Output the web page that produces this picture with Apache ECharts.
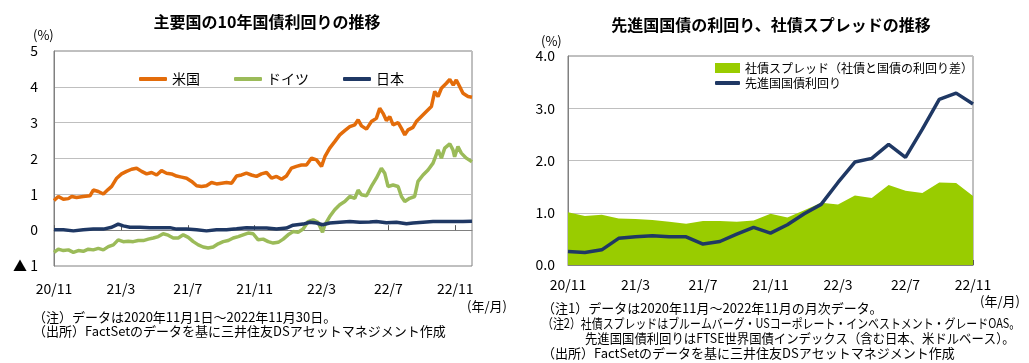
<!DOCTYPE html>
<html><head><meta charset="utf-8">
<script src="https://cdn.jsdelivr.net/npm/echarts@6/dist/echarts.min.js"></script>
<style>html,body{margin:0;padding:0;background:#fff}#c{width:1029px;height:363px}</style>
</head><body><div id="c"></div>
<script>
// ---- Left chart: 10-year government bond yields (months since 2020/11/1) ----
const usX = [0,0.26,0.56,0.86,1.06,1.35,1.75,2.15,2.35,2.65,2.95,3.25,3.45,3.75,4.04,4.34,4.64,4.94,5.24,5.54,5.84,6.14,6.43,6.73,7.03,7.33,7.63,7.93,8.23,8.53,8.82,9.12,9.42,9.72,10.02,10.32,10.62,10.92,11.22,11.51,11.81,12.11,12.41,12.71,13.01,13.31,13.61,13.90,14.20,14.50,14.80,15.10,15.40,15.70,16.00,16.20,16.49,16.79,17.09,17.39,17.69,17.99,18.19,18.39,18.69,18.98,19.28,19.48,19.68,19.88,20.08,20.28,20.58,20.78,20.98,21.18,21.47,21.67,21.97,22.27,22.57,22.77,22.97,23.17,23.47,23.67,23.88,24.06,24.26,24.46,24.76,25.0];
const usY = [0.83,0.94,0.86,0.88,0.94,0.91,0.94,0.96,1.12,1.08,1.01,1.14,1.22,1.45,1.57,1.64,1.70,1.73,1.64,1.57,1.61,1.54,1.66,1.59,1.57,1.51,1.48,1.45,1.36,1.24,1.22,1.24,1.33,1.29,1.31,1.33,1.31,1.51,1.54,1.59,1.54,1.50,1.57,1.61,1.45,1.50,1.42,1.51,1.73,1.78,1.82,1.82,2.01,1.96,1.78,2.05,2.29,2.47,2.66,2.78,2.89,2.94,3.08,2.91,2.82,3.03,3.12,3.40,3.26,3.06,3.17,2.94,3.00,2.84,2.66,2.80,2.87,3.03,3.17,3.31,3.45,3.87,3.73,3.96,4.10,4.21,4.05,4.19,4.01,3.82,3.73,3.71];
const deX = [0,0.26,0.56,0.86,1.16,1.45,1.75,2.05,2.35,2.65,2.95,3.25,3.55,3.84,4.14,4.44,4.74,5.04,5.34,5.64,5.94,6.24,6.53,6.83,7.13,7.43,7.73,8.03,8.33,8.63,8.92,9.22,9.52,9.82,10.12,10.42,10.72,11.02,11.31,11.61,11.91,12.21,12.51,12.81,13.11,13.41,13.71,14.00,14.30,14.60,14.90,15.20,15.50,15.80,16.06,16.20,16.49,16.79,17.09,17.39,17.69,17.99,18.19,18.39,18.69,18.98,19.28,19.58,19.78,19.98,20.28,20.58,20.78,20.98,21.27,21.57,21.77,22.07,22.37,22.67,22.97,23.17,23.37,23.67,23.86,23.96,24.16,24.36,24.66,25.0];
const deY = [-0.62,-0.53,-0.57,-0.55,-0.62,-0.57,-0.59,-0.53,-0.55,-0.51,-0.55,-0.46,-0.41,-0.27,-0.32,-0.31,-0.32,-0.29,-0.29,-0.25,-0.22,-0.18,-0.10,-0.14,-0.22,-0.22,-0.13,-0.20,-0.32,-0.41,-0.47,-0.50,-0.47,-0.38,-0.32,-0.29,-0.22,-0.18,-0.13,-0.08,-0.10,-0.27,-0.25,-0.32,-0.36,-0.34,-0.25,-0.13,-0.04,-0.06,0.03,0.24,0.29,0.21,-0.06,0.15,0.38,0.57,0.71,0.80,0.94,0.89,1.12,0.99,0.96,1.22,1.45,1.73,1.59,1.22,1.26,1.22,0.94,0.80,0.89,0.94,1.36,1.54,1.68,1.87,2.24,2.01,2.29,2.41,2.24,2.05,2.33,2.15,2.01,1.91];
const jpX = [0,0.56,1.16,1.75,2.35,2.95,3.45,3.84,4.14,4.54,5.14,5.74,6.33,6.93,7.33,7.93,8.53,9.12,9.72,10.32,10.92,11.51,12.11,12.71,13.31,13.90,14.30,14.90,15.30,15.70,16.06,16.49,17.09,17.69,18.29,18.88,19.28,19.88,20.48,21.08,21.47,22.07,22.67,23.27,23.86,24.46,25.0];
const jpY = [0.01,0.01,-0.02,0.01,0.03,0.03,0.08,0.17,0.12,0.08,0.08,0.07,0.07,0.07,0.03,0.03,0.01,-0.02,0.01,0.01,0.04,0.07,0.06,0.06,0.03,0.06,0.14,0.17,0.22,0.20,0.15,0.20,0.22,0.24,0.22,0.23,0.24,0.21,0.22,0.18,0.20,0.22,0.24,0.24,0.24,0.24,0.25];
const leftNames = ['米国','ドイツ','日本'];

// ---- Right chart: monthly data 2020/11 - 2022/11 ----
const months = ['20/11','20/12','21/1','21/2','21/3','21/4','21/5','21/6','21/7','21/8','21/9','21/10','21/11','21/12','22/1','22/2','22/3','22/4','22/5','22/6','22/7','22/8','22/9','22/10','22/11'];
const spread = [1.01,0.94,0.96,0.89,0.88,0.86,0.83,0.79,0.84,0.84,0.83,0.85,0.98,0.91,1.05,1.19,1.16,1.33,1.28,1.53,1.42,1.38,1.58,1.57,1.32];
const govYield = [0.26,0.24,0.29,0.51,0.54,0.56,0.54,0.54,0.40,0.45,0.59,0.72,0.61,0.77,0.98,1.16,1.58,1.97,2.04,2.31,2.06,2.60,3.17,3.29,3.08];
const rightNames = ['社債スプレッド（社債と国債の利回り差）','先進国国債利回り'];

const FONT = '"Noto Sans CJK JP", sans-serif';
const zip = (xs, ys) => xs.map((x, i) => [x, ys[i]]);
const monthLabel = v => { const t = 10 + v; return (20 + Math.floor(t / 12)) + '/' + (t % 12 + 1); };

const chart = echarts.init(document.getElementById('c'), null, {renderer: 'canvas'});
const txt = (x, y, text, opt) => Object.assign({type: 'text', x: x, y: y, style: Object.assign({text: text, fill: '#000', font: '13px ' + FONT, textVerticalAlign: 'middle'}, opt || {})});

chart.setOption({
  animation: false,
  textStyle: {fontFamily: FONT},
  grid: [
    {left: 54, top: 51, width: 418, height: 215, show: true, borderColor: '#808080', borderWidth: 1},
    {left: 568, top: 56, width: 405, height: 209, show: true, borderColor: '#808080', borderWidth: 1}
  ],
  xAxis: [
    {type: 'value', gridIndex: 0, min: 0, max: 25, interval: 4,
     axisLine: {show: true, lineStyle: {color: '#808080'}},
     axisTick: {show: true, inside: true, length: 5, lineStyle: {color: '#595959'}},
     splitLine: {show: false},
     axisLabel: {formatter: monthLabel, showMaxLabel: false, margin: 16, fontSize: 14, color: '#000', fontFamily: FONT}},
    {type: 'category', gridIndex: 1, data: months, boundaryGap: false,
     axisLine: {show: true, lineStyle: {color: '#808080'}},
     axisTick: {show: true, inside: true, length: 5, interval: 3, lineStyle: {color: '#595959'}},
     axisLabel: {interval: 3, margin: 13, fontSize: 14, color: '#000', fontFamily: FONT}}
  ],
  yAxis: [
    {type: 'value', gridIndex: 0, min: -1, max: 5, interval: 1,
     axisLine: {show: true, lineStyle: {color: '#808080'}}, axisTick: {show: false},
     splitLine: {lineStyle: {color: '#BFBFBF'}},
     axisLabel: {formatter: v => v < 0 ? '▲ ' + (-v) : String(v), margin: 16, fontSize: 14, color: '#000', fontFamily: FONT}},
    {type: 'value', gridIndex: 1, min: 0, max: 4, interval: 1,
     axisLine: {show: true, lineStyle: {color: '#808080'}}, axisTick: {show: false},
     splitLine: {lineStyle: {color: '#BFBFBF'}},
     axisLabel: {formatter: v => v.toFixed(1), margin: 13, fontSize: 14, color: '#000', fontFamily: FONT}}
  ],
  legend: [
    {data: leftNames, left: 134, top: 67, icon: 'roundRect', itemWidth: 28, itemHeight: 4, itemGap: 34,
     textStyle: {fontSize: 14, color: '#000', fontFamily: FONT}},
    {data: [rightNames[0]], left: 715, top: 62, icon: 'rect', itemWidth: 25, itemHeight: 10,
     textStyle: {fontSize: 12, color: '#000', fontFamily: FONT}, padding: 0},
    {data: [rightNames[1]], left: 715, top: 77, icon: 'roundRect', itemWidth: 25, itemHeight: 4,
     textStyle: {fontSize: 12, color: '#000', fontFamily: FONT}, padding: 0}
  ],
  series: [
    {name: leftNames[0], type: 'line', xAxisIndex: 0, yAxisIndex: 0, data: zip(usX, usY), showSymbol: false, color: '#E36C0A', lineStyle: {width: 3.5}},
    {name: leftNames[1], type: 'line', xAxisIndex: 0, yAxisIndex: 0, data: zip(deX, deY), showSymbol: false, color: '#9BBB59', lineStyle: {width: 3.5}},
    {name: leftNames[2], type: 'line', xAxisIndex: 0, yAxisIndex: 0, data: zip(jpX, jpY), showSymbol: false, color: '#1F3864', lineStyle: {width: 3.5}},
    {name: rightNames[0], type: 'line', xAxisIndex: 1, yAxisIndex: 1, data: spread, showSymbol: false, color: '#99CC00', lineStyle: {width: 0}, areaStyle: {color: '#99CC00', opacity: 1}},
    {name: rightNames[1], type: 'line', xAxisIndex: 1, yAxisIndex: 1, data: govYield, showSymbol: false, color: '#1F3864', lineStyle: {width: 3.5}}
  ],
  graphic: [
    txt(267, 22, '主要国の10年国債利回りの推移', {font: 'bold 16px ' + FONT, textAlign: 'center'}),
    txt(771, 25, '先進国国債の利回り、社債スプレッドの推移', {font: 'bold 16px ' + FONT, textAlign: 'center'}),
    txt(33, 35, '(%)', {font: '13px ' + FONT}),
    txt(541, 41, '(%)', {font: '13px ' + FONT}),
    txt(467, 306, '(年/月)', {font: '13px ' + FONT}),
    txt(980, 301, '(年/月)', {font: '13px ' + FONT}),
    txt(33, 317, '（注）データは2020年11月1日～2022年11月30日。'),
    txt(33, 331, '（出所）FactSetのデータを基に三井住友DSアセットマネジメント作成'),
    txt(542, 308, '（注1）データは2020年11月～2022年11月の月次データ。'),
    Object.assign(txt(542, 323, '（注2）社債スプレッドはブルームバーグ・USコーポレート・インベストメント・グレードOAS。'), {scaleX: 0.84}),
    Object.assign(txt(585, 338, '先進国国債利回りはFTSE世界国債インデックス（含む日本、米ドルベース）。'), {scaleX: 0.95}),
    txt(542, 353, '（出所）FactSetのデータを基に三井住友DSアセットマネジメント作成')
  ]
});
</script></body></html>
